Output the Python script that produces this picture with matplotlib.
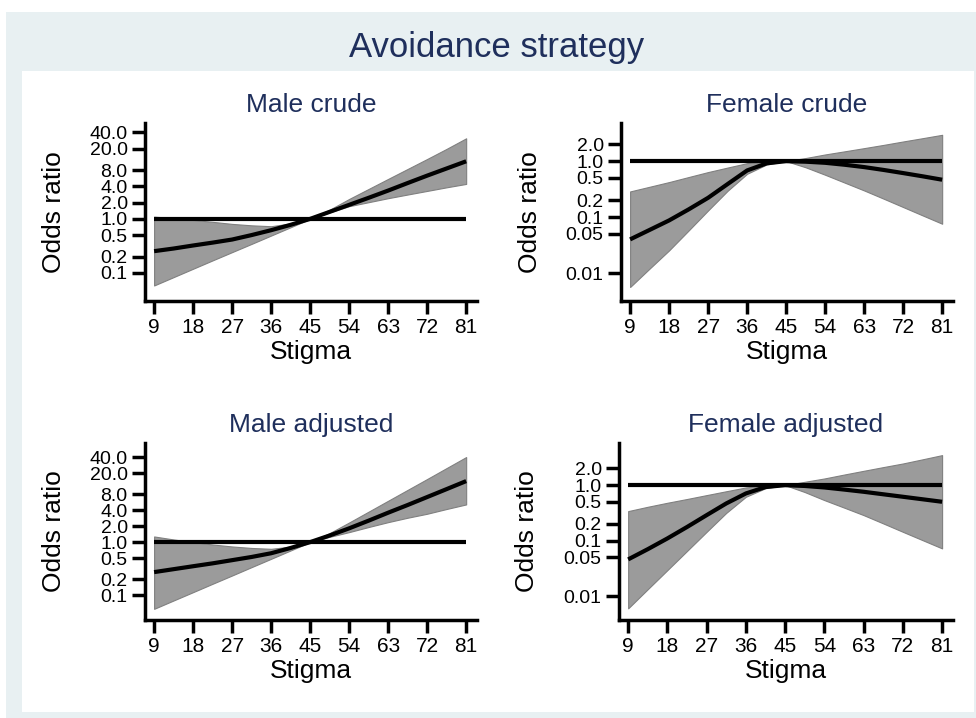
import matplotlib.pyplot as plt
from matplotlib.patches import Rectangle

plt.rcParams['font.family'] = ['Liberation Sans', 'DejaVu Sans']

stigma = [9, 13.5, 18, 22.5, 27, 31.5, 36, 40.5, 45, 49.5, 54, 58.5, 63, 67.5, 72, 76.5, 81]
stigma_ticks = [9, 18, 27, 36, 45, 54, 63, 72, 81]

# odds ratios (estimate, lower CI, upper CI)
male_crude_or = [0.252, 0.282, 0.321, 0.363, 0.414, 0.501, 0.617, 0.776, 1.0,
                 1.35, 1.82, 2.46, 3.35, 4.62, 6.34, 8.61, 11.7]
male_crude_lo = [0.0582, 0.0832, 0.119, 0.170, 0.242, 0.344, 0.491, 0.700, 1.0,
                 1.32, 1.72, 2.04, 2.42, 2.83, 3.30, 3.85, 4.45]
male_crude_hi = [1.10, 1.035, 0.957, 0.881, 0.807, 0.759, 0.731, 0.822, 1.0,
                 1.48, 2.34, 3.59, 5.51, 8.43, 12.9, 19.9, 31.2]

female_crude_or = [0.0399, 0.0589, 0.0871, 0.137, 0.221, 0.389, 0.681, 0.912, 1.0,
                   0.977, 0.933, 0.861, 0.782, 0.695, 0.611, 0.535, 0.465]
female_crude_lo = [0.00562, 0.0120, 0.0254, 0.0575, 0.1315, 0.295, 0.594, 0.871, 1.0,
                   0.776, 0.570, 0.413, 0.299, 0.213, 0.151, 0.107, 0.076]
female_crude_hi = [0.287, 0.348, 0.422, 0.519, 0.637, 0.767, 0.920, 0.989, 1.0,
                   1.135, 1.315, 1.496, 1.706, 1.950, 2.244, 2.570, 2.951]

male_adj_or = [0.272, 0.309, 0.351, 0.398, 0.457, 0.525, 0.617, 0.776, 1.0,
               1.334, 1.820, 2.541, 3.589, 5.012, 7.079, 10.0, 14.16]
male_adj_lo = [0.0552, 0.0794, 0.114, 0.164, 0.235, 0.338, 0.485, 0.697, 1.0,
               1.259, 1.545, 1.928, 2.382, 2.884, 3.428, 4.217, 5.140]
male_adj_hi = [1.279, 1.122, 1.0, 0.902, 0.828, 0.776, 0.748, 0.822, 1.0,
               1.479, 2.344, 3.758, 6.026, 9.661, 15.49, 24.95, 40.18]

female_adj_or = [0.0458, 0.070, 0.1094, 0.1758, 0.2877, 0.4677, 0.708, 0.923, 1.0,
                 0.966, 0.908, 0.832, 0.759, 0.684, 0.617, 0.556, 0.501]
female_adj_lo = [0.0060, 0.0133, 0.0294, 0.065, 0.144, 0.316, 0.617, 0.881, 1.0,
                 0.750, 0.537, 0.394, 0.288, 0.204, 0.144, 0.102, 0.0723]
female_adj_hi = [0.340, 0.407, 0.481, 0.562, 0.661, 0.776, 0.908, 0.989, 1.0,
                 1.148, 1.318, 1.549, 1.811, 2.113, 2.455, 2.917, 3.475]

male_yticks = [0.1, 0.2, 0.5, 1, 2, 4, 8, 20, 40]
male_ylabels = ['0.1', '0.2', '0.5', '1.0', '2.0', '4.0', '8.0', '20.0', '40.0']
female_yticks = [0.01, 0.05, 0.1, 0.2, 0.5, 1, 2]
female_ylabels = ['0.01', '0.05', '0.1', '0.2', '0.5', '1.0', '2.0']

W, H = 976, 718
navy = '#1f2f5c'

fig = plt.figure(figsize=(W / 100, H / 100), dpi=100)
fig.patch.set_facecolor('white')

# Stata-like graph region and plot region backgrounds
fig.patches.append(Rectangle((6 / W, 0), (W - 6) / W, 1 - 12 / H,
                             transform=fig.transFigure, facecolor='#e8f0f2',
                             edgecolor='none', zorder=-3))
fig.patches.append(Rectangle((22 / W, 1 - 712 / H), (974 - 22) / W, (712 - 71) / H,
                             transform=fig.transFigure, facecolor='white',
                             edgecolor='none', zorder=-2))

fig.text(497 / W, 1 - 47 / H, 'Avoidance strategy', ha='center', va='center',
         fontsize=25, color=navy)

panels = [
    ('Male crude', (145, 477, 123, 301), male_crude_or, male_crude_lo, male_crude_hi,
     male_yticks, male_ylabels, (0.030, 60)),
    ('Female crude', (621, 953, 123, 301), female_crude_or, female_crude_lo, female_crude_hi,
     female_yticks, female_ylabels, (0.00316, 4.8)),
    ('Male adjusted', (145, 477, 443, 620), male_adj_or, male_adj_lo, male_adj_hi,
     male_yticks, male_ylabels, (0.034, 74)),
    ('Female adjusted', (619, 953, 443, 620), female_adj_or, female_adj_lo, female_adj_hi,
     female_yticks, female_ylabels, (0.0037, 5.75)),
]

for title, (l, r, t, b), est, lo, hi, yt, yl, ylim in panels:
    ax = fig.add_axes([l / W, 1 - b / H, (r - l) / W, (b - t) / H])
    ax.set_facecolor('none')
    ax.fill_between(stigma, lo, hi, facecolor='#9b9b9b', edgecolor='#808080',
                    linewidth=0.8, zorder=1)
    ax.plot([stigma[0], stigma[-1]], [1, 1], color='black', lw=3, zorder=2,
            solid_capstyle='butt')
    ax.plot(stigma, est, color='black', lw=3, zorder=3, solid_capstyle='butt')

    ax.set_yscale('log')
    ax.set_ylim(*ylim)
    ax.set_xlim(6.9, 83.5)
    ax.set_xticks(stigma_ticks)
    ax.set_yticks(yt)
    ax.set_yticklabels(yl)
    ax.minorticks_off()

    for side in ['top', 'right']:
        ax.spines[side].set_visible(False)
    for side in ['left', 'bottom']:
        ax.spines[side].set_linewidth(2.5)
    ax.tick_params(axis='both', length=9.5, width=2.5, color='black')
    ax.tick_params(axis='x', pad=3, labelsize=15)
    ax.tick_params(axis='y', pad=3, labelsize=14)

    ax.set_title(title, fontsize=19, color=navy, pad=8)
    ax.set_xlabel('Stigma', fontsize=19)
    ax.xaxis.set_label_coords(0.5, -0.22)
    ax.set_ylabel('Odds ratio', fontsize=19, va='center')
    ax.yaxis.set_label_coords(-0.275, 0.5)

fig.savefig('out.png', dpi=100)
